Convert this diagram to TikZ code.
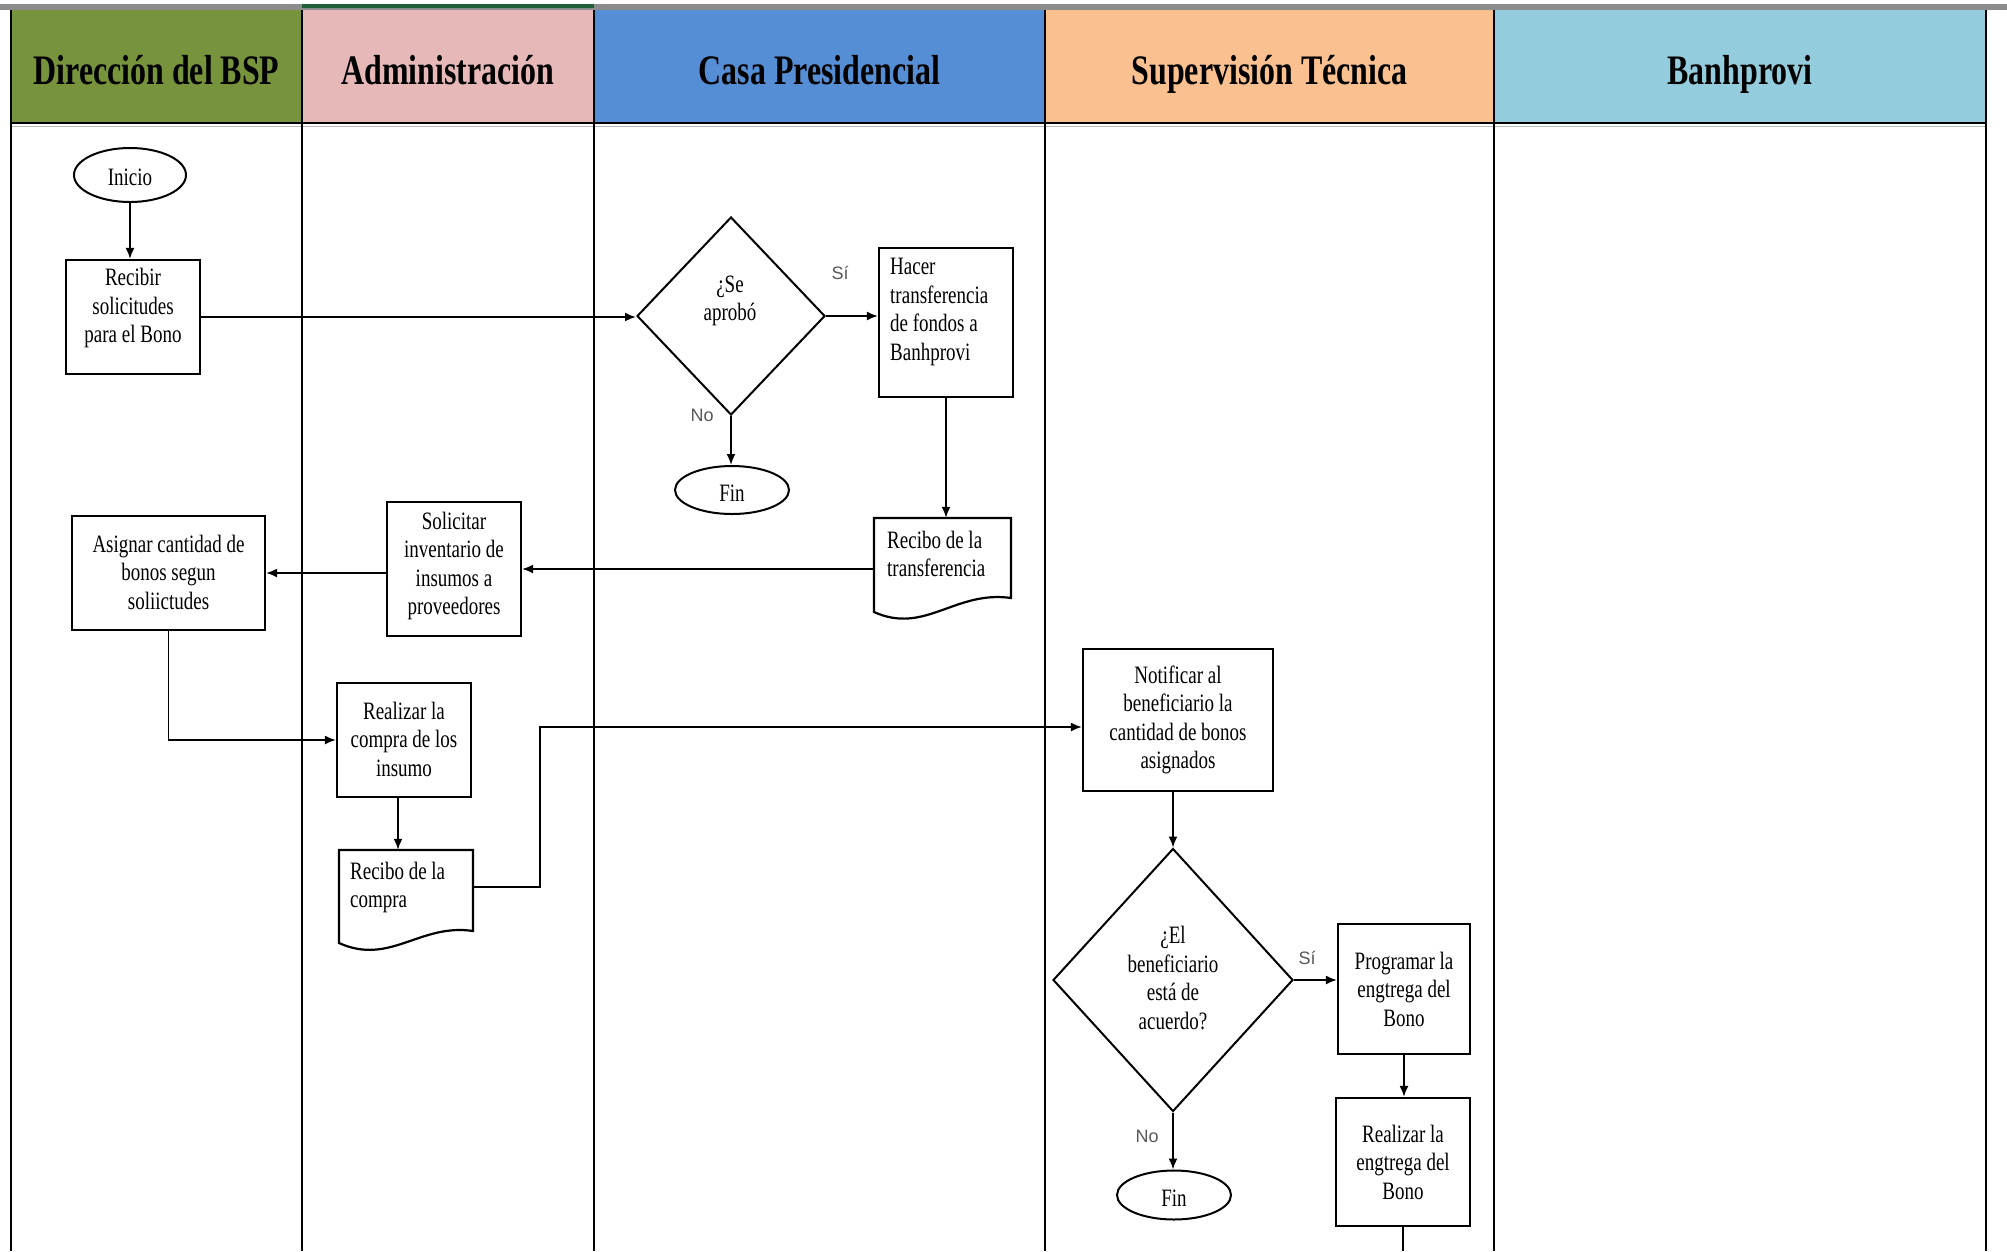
\documentclass[tikz,border=0pt]{standalone}
\usepackage{fontspec}
\setmainfont{Liberation Serif}[FakeStretch=0.76]
\newfontfamily\lblfont{Liberation Sans}
\usetikzlibrary{shapes.geometric,arrows.meta}
\definecolor{hgreen}{RGB}{119,147,60}
\definecolor{hpink}{RGB}{230,185,184}
\definecolor{hblue}{RGB}{85,142,213}
\definecolor{horange}{RGB}{250,192,144}
\definecolor{hlblue}{RGB}{147,205,221}
\definecolor{topgray}{RGB}{140,140,140}
\definecolor{topgreen}{RGB}{30,95,55}
\begin{document}
\begin{tikzpicture}[x=1pt,y=-1pt,
  proc/.style={draw, line width=2.2pt, rectangle, inner sep=0pt},
  docnode/.style={rectangle, inner sep=0pt},
  docline/.style={line width=2.2pt, line join=miter},
  term/.style={draw, line width=2pt, ellipse, inner sep=0pt, text height=22pt, font=\fontsize{25}{28.5}\selectfont},
  dec/.style={draw, line width=2pt, diamond, inner sep=0pt},
  txt/.style={font=\fontsize{25}{28.5}\selectfont, align=center, inner sep=0pt},
  txtl/.style={font=\fontsize{25}{28.5}\selectfont, align=left, inner sep=0pt, anchor=west},
  flow/.style={line width=1.8pt, -{Latex[length=11pt,width=9pt]}},
  plain/.style={line width=1.8pt},
  yn/.style={font=\lblfont\fontsize{18}{18}\selectfont, text=black!65, inner sep=0pt},
  lane/.style={line width=2pt},
  hdr/.style={font=\bfseries\fontsize{42}{42}\selectfont, anchor=base, inner sep=0pt}
]
\useasboundingbox (0,0) rectangle (2007,1251);
\fill[white] (0,0) rectangle (2007,1251);

% top border
\fill[topgray] (0,4) rectangle (2007,9.5);
\fill[topgreen] (302,4) rectangle (594,8);

% header cells
\fill[hgreen]  (11,10) rectangle (302,123);
\fill[hpink]   (302,10) rectangle (594,123);
\fill[hblue]   (594,10) rectangle (1045,123);
\fill[horange] (1045,10) rectangle (1494,123);
\fill[hlblue]  (1494,10) rectangle (1986,123);
\draw[line width=2.6pt] (11,123) -- (1986,123);
\draw[gray!55, line width=1.6pt] (11,126.5) -- (1986,126.5);

% lane lines
\foreach \lx in {11,302,594,1045,1494,1986}
  \draw[lane] (\lx,10) -- (\lx,1251);

% header texts
\node[hdr] (h1) at (156.5,84) {Dirección del BSP};
\node[hdr] (h2) at (448,84) {Administración};
\node[hdr] (h3) at (819.5,84) {Casa Presidencial};
\node[hdr] (h4) at (1269.5,84) {Supervisión Técnica};
\node[hdr] (h5) at (1740,84) {Banhprovi};

% ---- nodes ----
\node[term, minimum width=112, minimum height=54] (inicio) at (130,175) {Inicio};

\node[proc, minimum width=134, minimum height=114] (recibir) at (133,317) {};
\node[txt] (trecibir) at (133,308) {Recibir\\solicitudes\\para el Bono};

\node[dec, minimum width=188, minimum height=198] (d1) at (731,316) {};
\node[txt] (td1) at (730,301) {¿Se\\aprobó};

\node[proc, minimum width=134, minimum height=149] (hacer) at (946,322.5) {};
\node[txtl] (thacer) at (890,312) {Hacer\\transferencia\\de fondos a\\Banhprovi};

\node[term, minimum width=114, minimum height=48] (fin1) at (732,490) {Fin};

% document: Recibo de la transferencia
\node[docnode, minimum width=137, minimum height=100] (rt) at (942.5,568) {};
\draw[docline] (874,518) -- (1011,518) -- (1011,598)
  .. controls (955,590) and (925,635) .. (874,612) -- cycle;
\node[txtl] (trt) at (887,554) {Recibo de la\\transferencia};

\node[proc, minimum width=134, minimum height=134] (solicitar) at (454,569) {};
\node[txt] (tsolicitar) at (454,566) {Solicitar\\inventario de\\insumos a\\proveedores};

\node[proc, minimum width=193, minimum height=114] (asignar) at (168.5,573) {};
\node[txt] (tasignar) at (168.5,572) {Asignar cantidad de\\bonos segun\\soliictudes};

\node[proc, minimum width=134, minimum height=114] (realizar) at (404,740) {};
\node[txt] (trealizar) at (404,739) {Realizar la\\compra de los\\insumo};

% document: Recibo de la compra
\node[docnode, minimum width=134, minimum height=74] (rc) at (406,887) {};
\draw[docline] (339,850) -- (473,850) -- (473,931)
  .. controls (420,923) and (390,966) .. (339,943) -- cycle;
\node[txtl] (trc) at (350,887.5) {Recibo de la\\compra};

\node[proc, minimum width=190, minimum height=142] (notificar) at (1178,720) {};
\node[txt] (tnotificar) at (1178,720) {Notificar al\\beneficiario la\\cantidad de bonos\\asignados};

\node[dec, minimum width=240, minimum height=263] (d2) at (1173,980) {};
\node[txt] (td2) at (1173,978) {¿El\\beneficiario\\está de\\acuerdo?};

\node[proc, minimum width=132, minimum height=130] (programar) at (1404,989) {};
\node[txt] (tprogramar) at (1404,989) {Programar la\\engtrega del\\Bono};

\node[proc, minimum width=134, minimum height=128] (entrega) at (1403,1162) {};
\node[txt] (tentrega) at (1403,1162) {Realizar la\\engtrega del\\Bono};

\node[term, minimum width=114, minimum height=49] (fin2) at (1174,1195) {Fin};

\coordinate (endc) at (1403,1251);

% ---- connectors ----
\draw[flow] (inicio.south) -- (inicio.south |- recibir.north);
\draw[flow] (recibir.east) -- (recibir.east -| d1.west);
\draw[flow] (d1.east) -- (d1.east -| hacer.west);
\draw[flow] (d1.south) -- (d1.south |- fin1.north);
\draw[flow] (hacer.south) -- (hacer.south |- rt.north);
\draw[flow] (rt.west |- solicitar.east) -- (solicitar.east);
\draw[flow] (solicitar.west |- asignar.east) -- (asignar.east);
\draw[flow] (asignar.south) |- (realizar.west);
\draw[flow] ([xshift=-6pt]realizar.south) -- ([xshift=-6pt]realizar.south |- rc.north);
\draw[flow] (rc.east) -- ++(67,0) |- ([yshift=-7pt]notificar.west);
\draw[flow] (notificar.south -| d2.north) -- (d2.north);
\draw[flow] (d2.east) -- (d2.east -| programar.west);
\draw[flow] (d2.south) -- (d2.south |- fin2.north);
\draw[flow] (programar.south) -- (programar.south |- entrega.north);
\draw[plain] (entrega.south) -- (endc);

% ---- branch labels ----
\node[yn] (si1) at (840,273) {Sí};
\node[yn] (no1) at (702,415) {No};
\node[yn] (si2) at (1307,958) {Sí};
\node[yn] (no2) at (1147,1136) {No};
\end{tikzpicture}
\end{document}
